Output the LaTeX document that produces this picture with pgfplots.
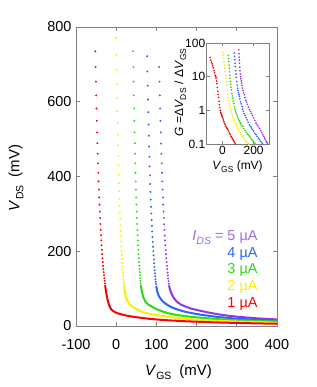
\documentclass[border=0pt]{standalone}
\usepackage{pgfplots}
\pgfplotsset{compat=1.18}
\usepackage{fontspec}
\setmainfont{Liberation Sans}
\definecolor{cred}{RGB}{255,0,0}
\definecolor{cyel}{RGB}{250,238,0}
\definecolor{cgrn}{RGB}{40,220,20}
\definecolor{cblu}{RGB}{40,100,255}
\definecolor{cpur}{RGB}{150,50,230}
\definecolor{lpur}{RGB}{155,110,230}
\newcommand\subm[1]{\raisebox{-4bp}{\fontsize{10.5}{12}\selectfont #1}}
\newcommand\subi[1]{\raisebox{-3bp}{\fontsize{8.5}{10}\selectfont #1}}
\begin{document}
\begin{tikzpicture}[x=1bp,y=1bp]
\path[use as bounding box] (0,0) rectangle (317,387);
\begin{axis}[at={(76bp,61bp)}, anchor=south west, scale only axis,
  width=201bp, height=299bp,
  xmin=-100, xmax=400, ymin=0, ymax=800,
  xtick={-100,0,100,200,300,400}, xticklabels={-100,0,100,200,300,400},
  ytick={0,200,400,600,800}, yticklabels={0,200,400,600,800},
  tick align=inside, major tick length=4bp,
  axis line style={draw=gray, line width=0.8bp},
  tick style={draw=gray, line width=0.8bp},
  ticklabel style={font=\fontsize{14.5}{17}\selectfont, text=black},
  xticklabel style={yshift=-10bp},
  yticklabel style={xshift=-1bp},
  mk/.style={only marks, mark=*, mark size=0.75bp},
  tl/.style={no marks, line width=2bp},
]
% purple
\addplot[mk, cpur] coordinates {(107.0,693) (107.8,654) (108.5,617) (109.3,582) (110.1,549) (110.9,518) (111.6,488) (112.4,461) (113.2,435) (113.9,410) (114.7,387) (115.5,365) (116.2,344) (117.0,325) (117.8,306) (118.6,289) (119.3,272) (120.1,257) (120.9,242) (121.6,229) (122.4,216) (123.2,203) (123.9,192) (124.7,181) (125.5,171) (126.3,161) (127.0,152) (127.8,143) (128.6,135) (129.3,127) (130.1,120) (130.9,113) (131.6,107)};
\addplot[tl, cpur] coordinates {(131.6,107) (134,97) (137,88) (141,79) (146,71) (152,64) (160,58) (170,53) (185,47) (200,43) (225,37) (250,32) (275,28) (300,25) (350,20.5) (400,17.5)};
% blue
\addplot[mk, cblu] coordinates {(77.0,722) (77.7,681) (78.4,643) (79.1,606) (79.8,572) (80.5,539) (81.2,509) (81.9,480) (82.6,453) (83.2,427) (83.9,403) (84.6,380) (85.3,359) (86.0,338) (86.7,319) (87.4,301) (88.1,284) (88.8,268) (89.5,253) (90.2,238) (90.9,225) (91.6,212) (92.3,200) (93.0,189) (93.7,178) (94.4,168) (95.0,158) (95.7,149) (96.4,141) (97.1,133) (97.8,125) (98.5,118) (99.2,112) (99.9,105)};
\addplot[tl, cblu] coordinates {(99.9,105) (102,93) (105,83) (109,75) (114,68) (120,62) (128,56) (138,50) (150,45) (165,40) (180,36) (200,32) (225,28) (250,24.5) (300,19.5) (350,16.5) (400,14.5)};
% green
\addplot[mk, cgrn] coordinates {(42.0,735) (42.6,693) (43.2,654) (43.8,617) (44.4,582) (45.0,549) (45.6,518) (46.2,489) (46.8,461) (47.4,435) (48.0,410) (48.5,387) (49.1,365) (49.7,344) (50.3,325) (50.9,306) (51.5,289) (52.1,273) (52.7,257) (53.3,243) (53.9,229) (54.5,216) (55.1,204) (55.7,192) (56.3,181) (56.9,171) (57.5,161) (58.1,152) (58.7,144) (59.3,136) (59.9,128) (60.4,121) (61.0,114) (61.6,108)};
\addplot[tl, cgrn] coordinates {(61.6,108) (63,97) (65,87) (67,79) (70,71) (73,65) (77,60) (82,56) (87,53) (95,48) (105,43) (115,39) (130,34) (150,29.5) (175,26) (200,23) (250,18.5) (300,15.5) (350,13.5) (400,12)};
% yellow
\addplot[mk, cyel] coordinates {(0.0,770) (0.6,726) (1.2,685) (1.7,646) (2.3,610) (2.9,575) (3.5,543) (4.1,512) (4.7,483) (5.2,456) (5.8,430) (6.4,405) (7.0,382) (7.6,361) (8.2,340) (8.7,321) (9.3,303) (9.9,286) (10.5,269) (11.1,254) (11.7,240) (12.2,226) (12.8,213) (13.4,201) (14.0,190) (14.6,179) (15.2,169) (15.7,159) (16.3,150) (16.9,142) (17.5,134) (18.1,126) (18.7,119) (19.2,112) (19.8,106)};
\addplot[tl, cyel] coordinates {(19.8,106) (21,95) (23,84) (25,76) (27,70) (30,63) (33,58) (37,54) (42,50) (50,45) (60,40) (70,36) (85,32) (100,29) (125,25) (150,22) (175,19) (200,17) (250,14) (300,12) (350,10.5) (400,9)};
% red
\addplot[mk, cred] coordinates {(-52.0,735) (-51.3,693) (-50.5,654) (-49.8,617) (-49.0,582) (-48.3,549) (-47.5,518) (-46.8,489) (-46.0,461) (-45.3,435) (-44.5,410) (-43.8,387) (-43.0,365) (-42.3,344) (-41.6,325) (-40.8,306) (-40.1,289) (-39.3,273) (-38.6,257) (-37.8,243) (-37.1,229) (-36.3,216) (-35.6,204) (-34.8,192) (-34.1,181) (-33.3,171) (-32.6,161) (-31.9,152) (-31.1,144) (-30.4,136) (-29.6,128) (-28.9,121) (-28.1,114) (-27.4,108)};
\addplot[tl, cred] coordinates {(-27.4,108) (-26,97) (-24,84) (-22,73) (-20,64) (-18,57) (-16,51.5) (-14,47.5) (-12,44.5) (-10,42) (-7,39.5) (-3,37) (0,35.5) (5,33.5) (10,32) (20,29) (30,27) (40,25) (50,23.5) (65,21.5) (80,19.5) (100,17.5) (125,15.5) (150,14) (175,12.5) (200,11.5) (250,9.5) (300,8.2) (350,7) (400,6)};
\end{axis}
\begin{axis}[at={(206.7bp,243bp)}, anchor=south west, scale only axis,
  width=62.6bp, height=101bp, ymode=log,
  xmin=-100, xmax=300, ymin=0.1, ymax=100,
  xtick={0,200}, xticklabels={0,200},
  ytick={0.1,1,10,100}, yticklabels={0.1,1,10,100},
  yminorticks=false, xminorticks=false,
  tick align=inside, major tick length=3bp,
  axis line style={draw=gray, line width=0.8bp},
  tick style={draw=gray, line width=0.8bp},
  ticklabel style={font=\fontsize{12}{14}\selectfont, text=black},
  yticklabel style={xshift=2bp},
  xticklabel style={yshift=1bp},
  axis background/.style={fill=white},
  im/.style={only marks, mark=*, mark size=0.6bp},
]
\addplot[im, cpur] coordinates {(105,63) (106,48) (107,38) (108,31) (109,25) (111,19) (113,15) (115,12) (117,10) (119,8.6) (121,7.5) (123,6.4) (125,5.5) (128,4.6) (132,3.9) (136,3.3) (141,2.9) (145,2.4) (150,2.0) (155,1.75) (160,1.5) (166,1.25) (173,1.05) (180,0.92) (186,0.8) (193,0.7) (200,0.6) (207,0.5) (215,0.42) (222,0.37) (230,0.33) (237,0.29) (244,0.25) (251,0.22) (258,0.19) (264,0.17) (270,0.15) (275,0.135) (280,0.12) (285,0.11) (290,0.10)};
\addplot[im, cblu] coordinates {(77,50) (78,40) (80,32) (81,25) (83,20) (85,15) (87,12) (89,9.5) (92,7.2) (95,5.6) (98,4.5) (100,3.9) (103,3.3) (106,2.9) (109,2.6) (112,2.2) (116,1.8) (120,1.55) (125,1.3) (129,1.1) (134,0.93) (139,0.8) (145,0.7) (151,0.6) (158,0.52) (165,0.44) (173,0.37) (180,0.33) (186,0.3) (193,0.27) (200,0.24) (207,0.21) (215,0.19) (222,0.17) (230,0.15) (237,0.135) (244,0.12) (251,0.11) (258,0.10)};
\addplot[im, cgrn] coordinates {(38,43) (39,34) (41,28) (43,22) (45,18) (46,14) (48,11) (49,9) (51,7.2) (53,6) (56,4.8) (58,4) (61,3.2) (64,2.7) (67,2.3) (70,1.9) (74,1.6) (77,1.3) (81,1.1) (84,0.95) (88,0.83) (93,0.72) (98,0.62) (103,0.55) (108,0.49) (113,0.44) (118,0.4) (124,0.36) (130,0.33) (137,0.29) (145,0.25) (152,0.22) (160,0.2) (166,0.185) (173,0.17) (179,0.155) (185,0.14) (192,0.13) (198,0.12) (205,0.11) (211,0.10)};
\addplot[im, cyel] coordinates {(3,54) (5,44) (8,35) (10,28) (13,22) (15,18) (18,14) (21,11) (24,9) (26,7) (29,5.5) (32,4) (35,2.9) (38,2.4) (42,1.9) (45,1.55) (49,1.3) (52,1.1) (56,0.93) (60,0.8) (65,0.68) (70,0.58) (76,0.5) (82,0.43) (88,0.37) (94,0.33) (100,0.29) (107,0.25) (115,0.22) (122,0.19) (130,0.17) (137,0.15) (145,0.13) (152,0.12) (160,0.11) (169,0.10)};
\addplot[im, cred] coordinates {(-79,37) (-74,31) (-70,27) (-66,24) (-62,21) (-58,18) (-54,15) (-50,13) (-45,11) (-42,10) (-40,9) (-37,7.4) (-35,6.2) (-32,4.8) (-29,3.7) (-27,3) (-24,2.4) (-21,1.85) (-19,1.47) (-16,1.2) (-13,1.0) (-10,0.88) (-8,0.8) (-5,0.73) (-3,0.68) (0,0.63) (3,0.59) (6,0.52) (10,0.46) (14,0.41) (18,0.37) (22,0.34) (27,0.31) (31,0.29) (35,0.27) (40,0.24) (45,0.21) (50,0.19) (55,0.17) (60,0.155) (65,0.14) (70,0.13) (75,0.12) (79,0.11) (83,0.10)};
\end{axis}
% main axis labels
\node[rotate=90, anchor=center] at (16,209) {\fontsize{15}{18}\selectfont\textit{V}\subm{DS}\hspace{8bp}(mV)};
\node[anchor=base] at (178.5,12) {\fontsize{15}{18}\selectfont\textit{V}\subm{GS}\hspace{8bp}(mV)};
% inset labels
\node[rotate=90, anchor=base] at (183,294.5) {\fontsize{12}{14}\selectfont\textit{G} =Δ\textit{V}\subi{DS}\hspace{4bp}/ Δ\textit{V}\subi{GS}};
\node[anchor=base] at (237.5,218) {\fontsize{12}{14}\selectfont\textit{V}\subi{GS} (mV)};
% legend
\node[anchor=base east, text=lpur] at (261,147) {\fontsize{14.5}{17}\selectfont\textit{I}\subm{\textit{DS}} = 5 µA};
\node[anchor=base east, text=cblu] at (261,130) {\fontsize{14.5}{17}\selectfont 4 µA};
\node[anchor=base east, text=cgrn] at (261,114) {\fontsize{14.5}{17}\selectfont 3 µA};
\node[anchor=base east, text=cyel] at (261,97) {\fontsize{14.5}{17}\selectfont 2 µA};
\node[anchor=base east, text=cred] at (261,80) {\fontsize{14.5}{17}\selectfont 1 µA};
\end{tikzpicture}
\end{document}
